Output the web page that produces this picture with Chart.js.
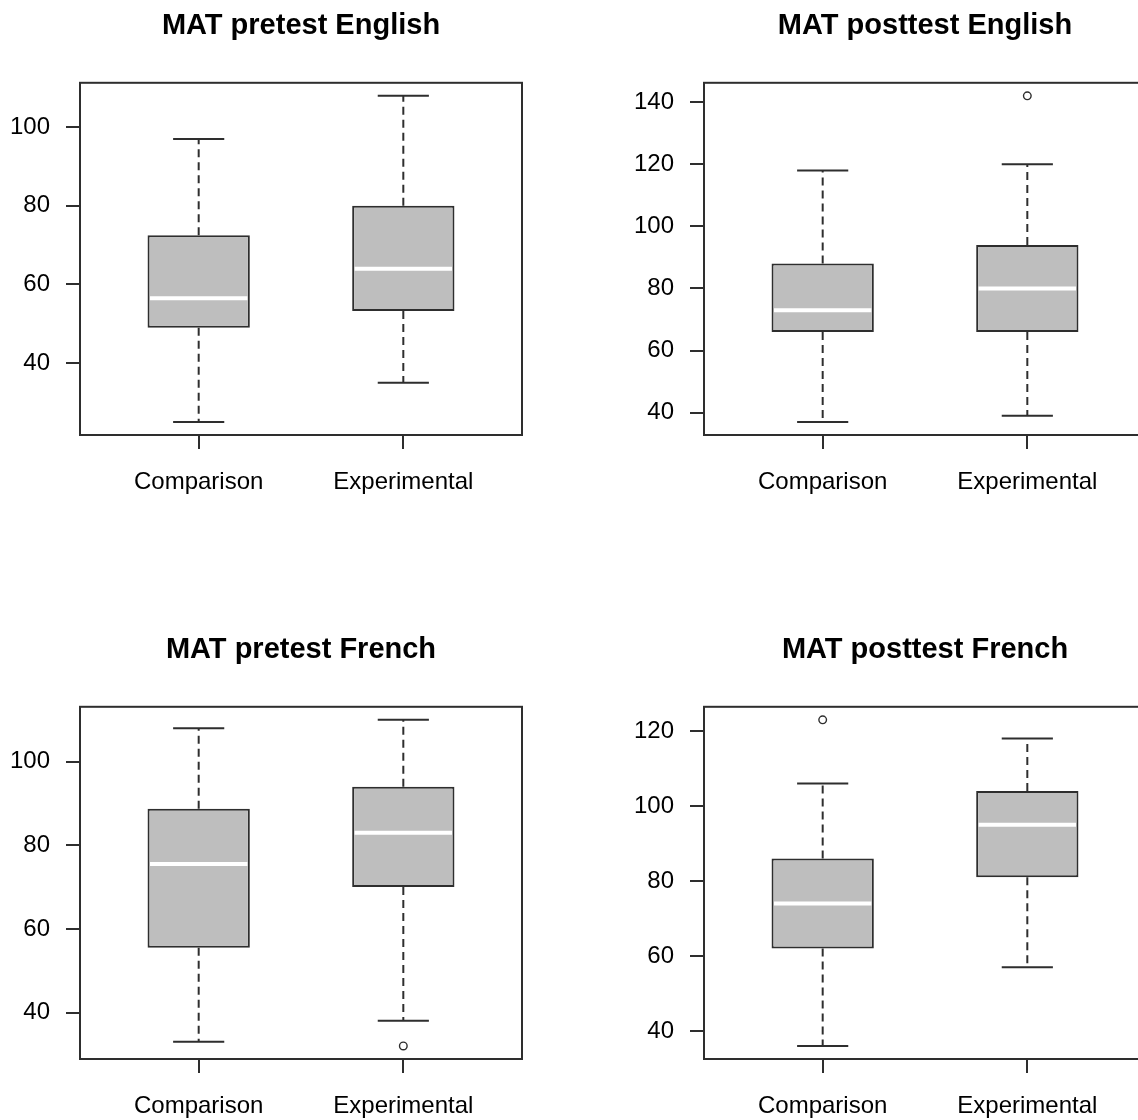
<!DOCTYPE html>
<html>
<head>
<meta charset="utf-8">
<script src="https://cdn.jsdelivr.net/npm/chart.js@4/dist/chart.umd.min.js"></script>
<style>
  html, body { margin: 0; padding: 0; background: #fff; overflow: hidden; width: 1138px; height: 1120px; }
  .panel { position: absolute; width: 624px; height: 624px; }
  canvas { display: block; }
</style>
</head>
<body>
<div class="panel" style="left:0;top:0"><canvas id="c0" width="624" height="624"></canvas></div>
<div class="panel" style="left:624px;top:0"><canvas id="c1" width="624" height="624"></canvas></div>
<div class="panel" style="left:0;top:624px"><canvas id="c2" width="624" height="624"></canvas></div>
<div class="panel" style="left:624px;top:624px"><canvas id="c3" width="624" height="624"></canvas></div>
<script>
// Group names on the x axis
const groups = ['Comparison', 'Experimental'];

// Five-number summaries per group: [lower whisker, Q1, median, Q3, upper whisker]
const preEnglish  = [[25, 49, 56.5, 72.5, 97], [35, 53.25, 64, 80, 108]];
const postEnglish = [[37, 66, 73, 88, 118], [39, 66, 80, 94, 120]];
const preFrench   = [[33, 55.5, 75.5, 88.75, 108], [38, 70, 83, 94, 110]];
const postFrench  = [[36, 62, 74, 86, 106], [57, 81, 95, 104, 118]];

// Outlying scores per group
const preEnglishOut  = [[], []];
const postEnglishOut = [[], [142]];
const preFrenchOut   = [[], [32]];
const postFrenchOut  = [[123], []];

// Y axis tick labels
const preEnglishTicks  = [40, 60, 80, 100];
const postEnglishTicks = [40, 60, 80, 100, 120, 140];
const preFrenchTicks   = [40, 60, 80, 100];
const postFrenchTicks  = [40, 60, 80, 100, 120];

const panels = [
  { id: 'c0', title: 'MAT pretest English',  stats: preEnglish,  out: preEnglishOut,  ticks: preEnglishTicks },
  { id: 'c1', title: 'MAT posttest English', stats: postEnglish, out: postEnglishOut, ticks: postEnglishTicks },
  { id: 'c2', title: 'MAT pretest French',   stats: preFrench,   out: preFrenchOut,   ticks: preFrenchTicks },
  { id: 'c3', title: 'MAT posttest French',  stats: postFrench,  out: postFrenchOut,  ticks: postFrenchTicks }
];

const INK = '#2e2e2e';
const FONT = "'Liberation Sans', Arial, Helvetica, sans-serif";
const BOX_HALF = 0.25;      // half box width, in group units
const STAPLE_HALF = 0.125;  // half whisker-cap width

Chart.defaults.font.family = FONT;
Chart.defaults.color = '#000';
Chart.defaults.animation = false;

// Full rectangle around the plotting region
const framePlugin = {
  id: 'frame',
  afterDatasetsDraw(chart) {
    const { ctx, chartArea: a } = chart;
    ctx.save();
    ctx.strokeStyle = INK;
    ctx.lineWidth = 2;
    ctx.strokeRect(a.left, a.top, a.right - a.left, a.bottom - a.top);
    ctx.restore();
  }
};

function drawPanel(p) {
  const pos = groups.map((g, i) => i + 1);
  const all = p.stats.flat().concat(p.out.flat());
  const lo = Math.min(...all), hi = Math.max(...all);
  const pad = (hi - lo) * 0.04;
  const xPad = (pos[pos.length - 1] - pos[0] + 1) * 0.04;

  const whiskers = [], staples = [], medians = [], outliers = [];
  p.stats.forEach((s, i) => {
    const x = pos[i];
    whiskers.push({ x, y: s[3] }, { x, y: s[4] }, { x, y: null },
                  { x, y: s[1] }, { x, y: s[0] }, { x, y: null });
    staples.push({ x: x - STAPLE_HALF, y: s[4] }, { x: x + STAPLE_HALF, y: s[4] }, { x, y: null },
                 { x: x - STAPLE_HALF, y: s[0] }, { x: x + STAPLE_HALF, y: s[0] }, { x, y: null });
    medians.push({ x: x - BOX_HALF + 0.012, y: s[2] }, { x: x + BOX_HALF - 0.012, y: s[2] }, { x, y: null });
    p.out[i].forEach(v => outliers.push({ x, y: v }));
  });

  const axisGrid = {
    display: true, drawOnChartArea: false, drawTicks: true,
    tickLength: 14, tickColor: INK, tickWidth: 2, lineWidth: 2, offset: false
  };

  new Chart(document.getElementById(p.id), {
    type: 'bar',
    data: {
      datasets: [
        { type: 'line', data: whiskers, borderColor: INK, borderWidth: 2, borderDash: [8, 5],
          pointRadius: 0, spanGaps: false, order: 4 },
        { type: 'line', data: staples, borderColor: INK, borderWidth: 2,
          pointRadius: 0, spanGaps: false, order: 3 },
        { type: 'bar', data: p.stats.map((s, i) => ({ x: pos[i], y: [s[1], s[3]] })),
          backgroundColor: '#bebebe', borderColor: INK, borderWidth: 2, borderSkipped: false,
          categoryPercentage: 1, barPercentage: BOX_HALF * 2, order: 2 },
        { type: 'line', data: medians, borderColor: '#ffffff', borderWidth: 4,
          pointRadius: 0, spanGaps: false, order: 1 },
        { type: 'line', data: outliers, showLine: false, pointStyle: 'circle', pointRadius: 3.8,
          pointBorderWidth: 1.4, pointBackgroundColor: '#ffffff', pointBorderColor: INK, order: 0 }
      ]
    },
    options: {
      responsive: false,
      events: [],
      layout: { padding: { top: 0, left: 0, right: 102, bottom: 0 } },
      plugins: {
        legend: { display: false },
        tooltip: { enabled: false },
        title: {
          display: true, text: p.title, fullSize: false, color: '#000',
          font: { family: FONT, size: 29, weight: 'bold' },
          padding: { top: 9, bottom: 39 }
        }
      },
      scales: {
        x: {
          type: 'linear', offset: false,
          min: pos[0] - 0.5 - xPad, max: pos[pos.length - 1] + 0.5 + xPad,
          afterBuildTicks: s => { s.ticks = pos.map(v => ({ value: v })); },
          afterFit: s => { s.height = 189; },
          ticks: { callback: (v, i) => groups[i], font: { size: 24 }, color: '#000',
                   padding: 19, maxRotation: 0, autoSkip: false },
          grid: axisGrid,
          border: { display: false }
        },
        y: {
          min: lo - pad, max: hi + pad,
          afterBuildTicks: s => { s.ticks = p.ticks.map(v => ({ value: v })); },
          afterFit: s => { s.width = 80; },
          ticks: { font: { size: 24 }, color: '#000', padding: 16 },
          grid: axisGrid,
          border: { display: false }
        }
      }
    },
    plugins: [framePlugin]
  });
}

panels.forEach(drawPanel);
</script>
</body>
</html>
